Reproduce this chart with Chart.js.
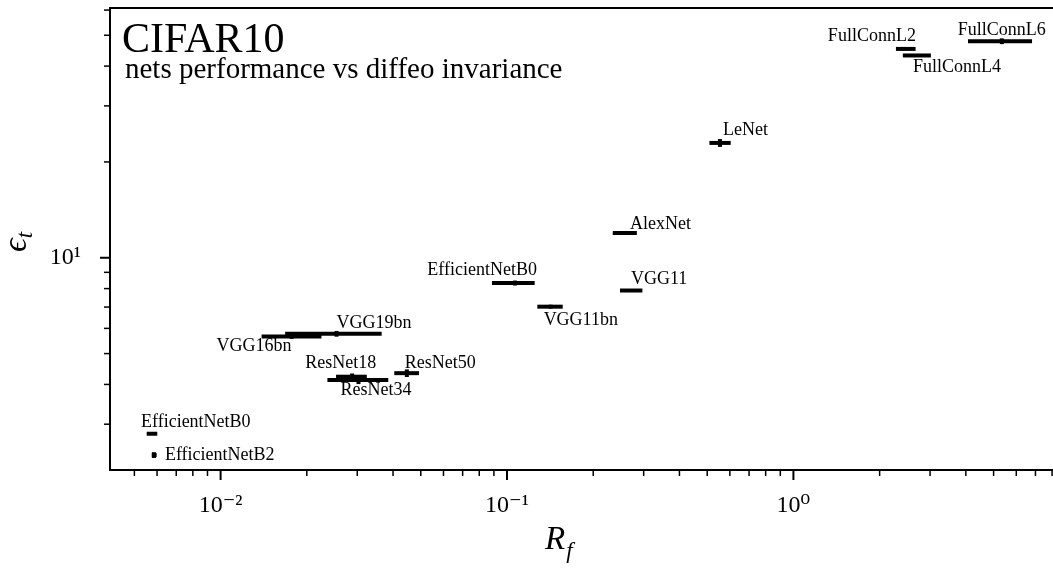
<!DOCTYPE html>
<html lang="en">
<head>
<meta charset="UTF-8">
<title>CIFAR10 - nets performance vs diffeo invariance</title>
<script src="https://cdn.jsdelivr.net/npm/chart.js"></script>
<style>
  html, body { margin: 0; padding: 0; background: #fff; }
  #chart { display: block; }
</style>
</head>
<body>
<canvas id="chart" width="1053" height="571"></canvas>
<script>
// one entry per trained net, same order everywhere
const models = ['FullConnL6', 'FullConnL2', 'FullConnL4', 'LeNet', 'AlexNet', 'VGG11', 'EfficientNetB0',
  'VGG11bn', 'VGG19bn', 'VGG16bn', 'ResNet18', 'ResNet34', 'ResNet50', 'EfficientNetB0', 'EfficientNetB2'];
const rf     = [5.34, 2.45, 2.70, 0.554, 0.258, 0.271, 0.1066, 0.142, 0.0254, 0.0177, 0.0288, 0.0303, 0.0447, 0.00576, 0.00585];
const rfLow  = [4.07, 2.28, 2.41, 0.509, 0.234, 0.248, 0.0886, 0.1276, 0.0168, 0.0139, 0.0253, 0.0236, 0.0404, 0.00552, 0.00575];
const rfHigh = [6.81, 2.67, 3.02, 0.604, 0.284, 0.297, 0.1249, 0.1565, 0.0365, 0.0225, 0.0324, 0.0385, 0.0493, 0.00601, 0.00598];
const eps    = [47.9, 45.3, 43.2, 22.95, 11.96, 7.89, 8.33, 7.02, 5.77, 5.66, 4.23, 4.13, 4.34, 2.80, 2.40];
const epsErr = [1.0, 0.2, 0.2, 0.65, 0.08, 0.08, 0.15, 0.1, 0.12, 0.1, 0.1, 0.12, 0.12, 0.02, 0.05];

const xMajorTicks = [0.01, 0.1, 1];
const xTickLabels = ['10⁻²', '10⁻¹', '10⁰'];
const xMinorTicks = [0.005, 0.006, 0.007, 0.008, 0.009, 0.02, 0.03, 0.04, 0.05, 0.06, 0.07, 0.08, 0.09,
  0.2, 0.3, 0.4, 0.5, 0.6, 0.7, 0.8, 0.9, 2, 3, 4, 5, 6, 7, 8];
const yMajorTicks = [10];
const yTickLabels = ['10¹'];
const yMinorTicks = [3, 4, 5, 6, 7, 8, 9, 20, 30, 40, 50, 60];

// where each name is written, relative to its point (pixels)
const labelPlace = [
  { align: 'center', dx: 0, dy: -11 },
  { align: 'right', dx: 11, dy: -13 },
  { align: 'left', dx: -4, dy: 12 },
  { align: 'left', dx: 3, dy: -13 },
  { align: 'left', dx: 5, dy: -9 },
  { align: 'left', dx: 0, dy: -11 },
  { align: 'right', dx: 22, dy: -13 },
  { align: 'left', dx: -7, dy: 14 },
  { align: 'left', dx: 0, dy: -11 },
  { align: 'right', dx: 0, dy: 10 },
  { align: 'right', dx: 24, dy: -13 },
  { align: 'left', dx: -18, dy: 10 },
  { align: 'left', dx: -2, dy: -10 },
  { align: 'left', dx: -11, dy: -11 },
  { align: 'left', dx: 11, dy: 0 }
];

const serif = "'Liberation Serif', 'DejaVu Serif', serif";

const errorBars = {
  id: 'errorBars',
  afterDatasetsDraw(chart) {
    const ctx = chart.ctx;
    const xs = chart.scales.x, ys = chart.scales.y;
    ctx.save();
    ctx.strokeStyle = '#000';
    ctx.lineWidth = 4;
    ctx.lineCap = 'butt';
    for (let i = 0; i < models.length; i++) {
      const y = ys.getPixelForValue(eps[i]);
      const x = xs.getPixelForValue(rf[i]);
      ctx.beginPath();
      ctx.moveTo(xs.getPixelForValue(rfLow[i]), y);
      ctx.lineTo(xs.getPixelForValue(rfHigh[i]), y);
      ctx.stroke();
      ctx.beginPath();
      ctx.moveTo(x, ys.getPixelForValue(eps[i] - epsErr[i]));
      ctx.lineTo(x, ys.getPixelForValue(eps[i] + epsErr[i]));
      ctx.stroke();
    }
    // names
    ctx.fillStyle = '#000';
    ctx.font = '18px ' + serif;
    ctx.textBaseline = 'middle';
    for (let i = 0; i < models.length; i++) {
      const p = labelPlace[i];
      ctx.textAlign = p.align;
      ctx.fillText(models[i], xs.getPixelForValue(rf[i]) + p.dx, ys.getPixelForValue(eps[i]) + p.dy);
    }
    ctx.restore();
  }
};

// frame, matplotlib-like ticks and the text around the axes
const frame = {
  id: 'frame',
  afterDraw(chart) {
    const ctx = chart.ctx;
    const a = chart.chartArea;
    const xs = chart.scales.x, ys = chart.scales.y;
    ctx.save();
    ctx.strokeStyle = '#000';
    ctx.lineWidth = 2;
    ctx.strokeRect(a.left, a.top, a.right - a.left + 2, a.bottom - a.top);

    function tick(x1, y1, x2, y2, w) {
      ctx.lineWidth = w;
      ctx.beginPath();
      ctx.moveTo(x1, y1);
      ctx.lineTo(x2, y2);
      ctx.stroke();
    }
    xMajorTicks.forEach(v => { const x = xs.getPixelForValue(v); tick(x, a.bottom, x, a.bottom + 10, 2); });
    xMinorTicks.forEach(v => { const x = xs.getPixelForValue(v); tick(x, a.bottom, x, a.bottom + 6, 1.5); });
    yMajorTicks.forEach(v => { const y = ys.getPixelForValue(v); tick(a.left, y, a.left - 10, y, 2); });
    yMinorTicks.forEach(v => { const y = ys.getPixelForValue(v); tick(a.left, y, a.left - 6, y, 1.5); });

    ctx.fillStyle = '#000';
    ctx.textAlign = 'left';
    ctx.textBaseline = 'alphabetic';
    ctx.font = '42px ' + serif;
    ctx.fillText('CIFAR10', 122, 52);
    ctx.font = '29px ' + serif;
    ctx.fillText('nets performance vs diffeo invariance', 125, 78);

    // x title R_f
    ctx.font = 'italic 33px ' + serif;
    ctx.fillText('R', 545, 549);
    const rw = ctx.measureText('R').width;
    ctx.font = 'italic 23px ' + serif;
    ctx.fillText('f', 545 + rw + 1, 558);

    // y title eps_t, rotated
    ctx.translate(26, 252);
    ctx.rotate(-Math.PI / 2);
    ctx.font = 'italic 34px ' + serif;
    ctx.fillText('ϵ', 0, 0);
    const ew = ctx.measureText('ϵ').width;
    ctx.font = 'italic 23px ' + serif;
    ctx.fillText('t', ew, 6);
    ctx.restore();
  }
};

function setTicks(majors, minors) {
  return function (scale) {
    scale.ticks = majors.concat(minors).sort((p, q) => p - q).map(v => ({ value: v }));
  };
}

// fixed axis boxes so the plot frame sits where the figure has it
function fixBox(w, h) {
  return function (scale) {
    if (w) scale.width = w;
    if (h) scale.height = h;
    scale.paddingTop = 0;
    scale.paddingBottom = 0;
    scale.paddingLeft = 0;
    scale.paddingRight = 0;
  };
}

new Chart(document.getElementById('chart'), {
  type: 'scatter',
  data: {
    datasets: [{
      data: rf.map((x, i) => ({ x: x, y: eps[i] })),
      pointRadius: 0,
      showLine: false
    }]
  },
  options: {
    responsive: false,
    animation: false,
    devicePixelRatio: 1,
    layout: { padding: { top: 8, right: 0, left: 0, bottom: 0 } },
    plugins: { legend: { display: false }, tooltip: { enabled: false } },
    scales: {
      x: {
        type: 'logarithmic',
        min: 0.00411,
        max: 8.06,
        grid: { display: false },
        border: { display: false },
        afterBuildTicks: setTicks(xMajorTicks, xMinorTicks),
        afterFit: fixBox(0, 101),
        ticks: {
          autoSkip: false,
          maxRotation: 0,
          padding: 13,
          color: '#000',
          font: { family: serif, size: 24 },
          callback: (v) => { const k = xMajorTicks.indexOf(v); return k < 0 ? '' : xTickLabels[k]; }
        }
      },
      y: {
        type: 'logarithmic',
        min: 2.154,
        max: 60.9,
        grid: { display: false },
        border: { display: false },
        afterBuildTicks: setTicks(yMajorTicks, yMinorTicks),
        afterFit: fixBox(110, 0),
        ticks: {
          autoSkip: false,
          padding: 21,
          color: '#000',
          font: { family: serif, size: 24 },
          callback: (v) => { const k = yMajorTicks.indexOf(v); return k < 0 ? '' : yTickLabels[k]; }
        }
      }
    }
  },
  plugins: [errorBars, frame]
});
</script>
</body>
</html>
